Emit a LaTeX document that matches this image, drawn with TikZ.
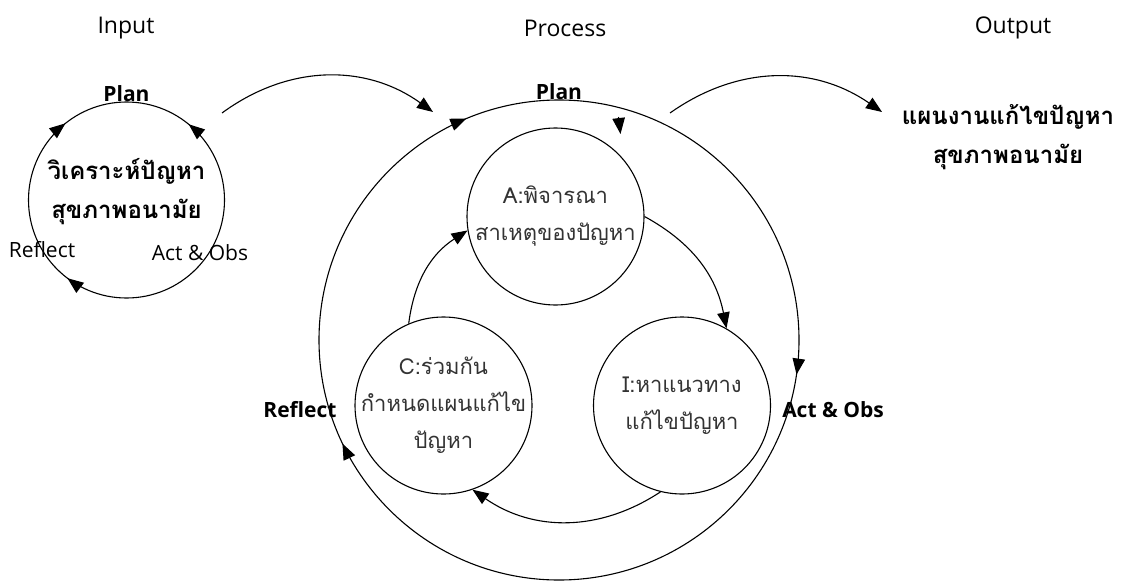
\documentclass[tikz,border=0pt]{standalone}
\usepackage{fontspec}
\setmainfont[Script=Thai]{Loma}
\newfontfamily\latinfont{Open Sans}
\usetikzlibrary{arrows.meta, positioning, decorations.markings}

\begin{document}
\begin{tikzpicture}[x=1pt, y=1pt,
    >={Triangle[length=16pt, width=12.5pt]},
    ring/.style={draw, circle, line width=1.1pt, inner sep=0pt},
    spot/.style={circle, inner sep=0pt},
    head/.style={inner sep=0pt, font=\latinfont\fontsize{23}{27}\selectfont},
    tag/.style={inner sep=0pt, font=\latinfont\bfseries\fontsize{21}{24}\selectfont},
    note/.style={inner sep=0pt, font=\latinfont\fontsize{21}{24}\selectfont},
    body/.style={inner sep=0pt, align=center, text=black!80, font=\fontsize{22}{37}\selectfont},
    boldbody/.style={inner sep=0pt, align=center, font=\bfseries\fontsize{24}{39}\selectfont},
    arrow/.style={->, line width=1.1pt},
    marks/.style={postaction={decorate}, decoration={markings, #1}}
  ]
  \useasboundingbox (0,0) rectangle (1121,-581);

  % Column titles
  \node[head] (tin) at (126,-28) {Input};
  \node[head] (tproc) at (565,-28) {Process};
  \node[head] (tout) at (1013,-28) {Output};

  % Input cycle
  \node[spot, minimum size=196pt] (inp) at (126.5,-200) {};
  \draw[line width=1.1pt, marks={mark=at position 0.1406 with {\arrow{>}},
      mark=at position 0.357 with {\arrowreversed{>}},
      mark=at position 0.647 with {\arrowreversed{>}}}]
    (inp.center) circle[radius=98pt];
  \node[boldbody] (inptext) at ([yshift=8pt]inp) {วิเคราะห์ปัญหา\\สุขภาพอนามัย};
  \node[tag, above=0pt of inp.north] (plan1) {Plan};
  \node[note] (refl1) at (42,-250) {Reflect};
  \node[note] (act1) at (200,-253) {Act \& Obs};

  % Process cycle
  \node[spot, minimum size=480pt] (proc) at (559,-340) {};
  \draw[line width=1.1pt, marks={mark=at position 0.313 with {\arrowreversed{>}},
      mark=at position 0.571 with {\arrowreversed{>}},
      mark=at position 0.977 with {\arrowreversed{>}}}]
    (proc.center) circle[radius=240pt];
  \coordinate (drop) at (618.5,-117);
  \draw[arrow] (drop) -- ++(2,-17);
  \node[tag, above=0pt of proc.north] (plan2) {Plan};
  \node[tag] (refl2) at (300,-410) {Reflect};
  \node[tag] (act2) at (833,-410) {Act \& Obs};

  % Inner steps
  \node[ring, minimum size=177pt] (A) at (555.5,-216.5) {};
  \node[body] (Atext) at (A) {A:พิจารณา\\สาเหตุของปัญหา};
  \node[ring, minimum size=177pt] (I) at (682,-405.5) {};
  \node[body] (Itext) at (I) {I:หาแนวทาง\\แก้ไขปัญหา};
  \node[ring, minimum size=177pt] (C) at (443.5,-405.5) {};
  \node[body] (Ctext) at (C) {C:ร่วมกัน\\กำหนดแผนแก้ไข\\ปัญหา};

  \draw[arrow] (A.0) to[bend left=25] (I.60);
  \draw[arrow] (I.-104) to[bend left=34] (C.-71);
  \draw[arrow] (C.113) to[bend left=25] (A.189);

  % Output
  \node[boldbody] (outtext) at (1008,-137) {แผนงานแก้ไขปัญหา\\สุขภาพอนามัย};

  % Links between stages
  \coordinate (inS) at (222,-113);
  \coordinate (inE) at (433,-112);
  \coordinate (outS) at (670,-113);
  \coordinate (outE) at (882,-112);
  \draw[arrow] (inS) to[bend left=36] (inE);
  \draw[arrow] (outS) to[bend left=35] (outE);
\end{tikzpicture}
\end{document}
